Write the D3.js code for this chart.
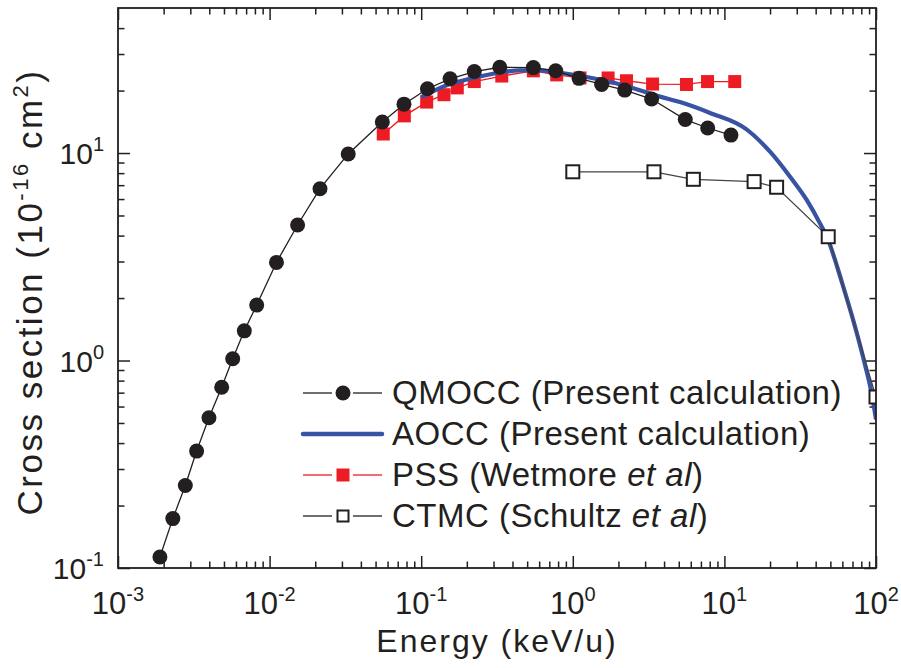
<!DOCTYPE html>
<html>
<head>
<meta charset="utf-8">
<script src="https://cdn.jsdelivr.net/npm/d3@7"></script>
<style>
  body { margin: 0; background: #fff; }
  text { font-family: "Liberation Sans", Arial, sans-serif; fill: #231f20; }
</style>
</head>
<body>
<div id="canvas"></div>
<script>
"use strict"

// values (energy in keV/u, cross section in 1e-16 cm^2)
const qmoccEnergy = [0.00189, 0.0023, 0.00278, 0.0033, 0.00398, 0.00483, 0.00571, 0.00681, 0.00822, 0.0111,
    0.0153, 0.0215, 0.033, 0.0554, 0.077, 0.110, 0.155, 0.224, 0.330, 0.549, 0.771, 1.10, 1.55, 2.20, 3.31, 5.52, 7.76, 11.05];
const qmoccSigma = [0.113, 0.173, 0.250, 0.366, 0.530, 0.743, 1.02, 1.39, 1.85, 2.97,
    4.50, 6.73, 9.9, 14.1, 17.2, 20.4, 22.8, 24.7, 25.9, 25.8, 24.9, 22.9, 21.4, 20.1, 18.2, 14.5, 13.2, 12.2];

const aoccEnergy = [0.1, 0.155, 0.21, 0.315, 0.45, 0.6, 0.85, 1.5, 2.27, 3.76, 5.09, 8.04, 14.0, 20.0, 27.1,
    34.9, 42.7, 48.4, 55.1, 60.8, 70.8, 82.4, 93.7, 100];
const aoccSigma = [18.6, 21.5, 22.8, 24.3, 25.0, 25.0, 24.3, 22.6, 21.0, 18.7, 17.6, 15.6, 13.0, 10.15, 7.69,
    5.94, 4.58, 3.81, 2.87, 2.27, 1.56, 1.03, 0.69, 0.52];

const pssEnergy = [0.0562, 0.0774, 0.1087, 0.1413, 0.173, 0.224, 0.340, 0.549, 0.783, 1.116, 1.71, 2.26, 3.36, 5.62, 7.74, 11.7];
const pssSigma = [12.35, 15.1, 17.6, 19.1, 20.6, 22.1, 23.5, 24.9, 23.8, 23.0, 23.0, 22.3, 21.5, 21.4, 22.1, 22.1];

const ctmcEnergy = [1.0, 3.43, 6.24, 15.7, 22.1, 48.4, 100];
const ctmcSigma = [8.12, 8.12, 7.47, 7.28, 6.84, 3.95, 0.667];

const xTickValues = [1e-3, 1e-2, 1e-1, 1e0, 1e1, 1e2];
const xTickExponents = ["-3", "-2", "-1", "0", "1", "2"];
const yTickValues = [1e-1, 1e0, 1e1];
const yTickExponents = ["-1", "0", "1"];

const legendNames = ["QMOCC (Present calculation)", "AOCC (Present calculation)", "PSS (Wetmore ", "CTMC (Schultz "];
const legendItalic = ["", "", "et al", "et al"];

const black = "#231f20";
const blue = "#3953a4";
const red = "#ed1c24";

const margin = { left: 118, top: 8 };
const W = 758, H = 560;

let svg = d3.select("#canvas")
    .append("svg")
    .attr("width", 901)
    .attr("height", 668);

let plot = svg.append("g")
    .attr("transform", `translate(${margin.left},${margin.top})`);

let x = d3.scaleLog().domain([1e-3, 1e2]).range([0, W]);
let y = d3.scaleLog().domain([0.1, 50]).range([H, 0]);

// minor tick positions 2..9 in each decade
function minorTicks(lo, hi) {
    let out = [];
    for (let e = lo; e < hi; e++) {
        for (let m = 2; m <= 9; m++) out.push(m * Math.pow(10, e));
    }
    return out;
}
const xMinor = minorTicks(-3, 2);
const yMinor = minorTicks(-1, 2).filter(v => v < 50);

function drawAxis(axis, transform) {
    let g = plot.append("g").attr("transform", transform).call(axis);
    g.select(".domain").remove();
    g.selectAll("line").attr("stroke", black).attr("stroke-width", 1.5);
    g.selectAll("text").remove();
}

drawAxis(d3.axisBottom(x).tickValues(xTickValues).tickSize(-12), `translate(0,${H})`);
drawAxis(d3.axisBottom(x).tickValues(xMinor).tickSize(-6.5), `translate(0,${H})`);
drawAxis(d3.axisTop(x).tickValues(xTickValues).tickSize(-12), "translate(0,0)");
drawAxis(d3.axisTop(x).tickValues(xMinor).tickSize(-6.5), "translate(0,0)");
drawAxis(d3.axisLeft(y).tickValues(yTickValues).tickSize(-12), "translate(0,0)");
drawAxis(d3.axisLeft(y).tickValues(yMinor).tickSize(-6.5), "translate(0,0)");
drawAxis(d3.axisRight(y).tickValues(yTickValues).tickSize(-12), `translate(${W},0)`);
drawAxis(d3.axisRight(y).tickValues(yMinor).tickSize(-6.5), `translate(${W},0)`);

// tick labels as 10^n
function powerLabel(sel, exp) {
    sel.append("tspan").text("10");
    sel.append("tspan").attr("dy", -13).attr("font-size", 20).text(exp);
}

xTickValues.forEach((v, i) => {
    let t = plot.append("text")
        .attr("x", x(v))
        .attr("y", H + 46)
        .attr("text-anchor", "middle")
        .attr("font-size", 31);
    powerLabel(t, xTickExponents[i]);
});

yTickValues.forEach((v, i) => {
    let t = plot.append("text")
        .attr("x", -14)
        .attr("y", y(v) + 11)
        .attr("text-anchor", "end")
        .attr("font-size", 30);
    powerLabel(t, yTickExponents[i]);
});

// axis titles
svg.append("text")
    .attr("x", margin.left + W / 2)
    .attr("y", 652)
    .attr("text-anchor", "middle")
    .attr("font-size", 32)
    .attr("letter-spacing", 2)
    .text("Energy (keV/u)");

let yTitle = svg.append("text")
    .attr("transform", "translate(42,292) rotate(-90)")
    .attr("text-anchor", "middle")
    .attr("font-size", 35)
    .attr("letter-spacing", 2.5);
yTitle.append("tspan").text("Cross section (10");
yTitle.append("tspan").attr("dy", -14).attr("font-size", 22).text("-16");
yTitle.append("tspan").attr("dy", 14).text(" cm");
yTitle.append("tspan").attr("dy", -14).attr("font-size", 22).text("2");
yTitle.append("tspan").attr("dy", 14).text(")");

// data
svg.append("clipPath").attr("id", "clip")
    .append("rect").attr("width", W).attr("height", H);

let data = plot.append("g").attr("clip-path", "url(#clip)");

let line = d3.line()
    .x(d => x(d[0]))
    .y(d => y(d[1]));

let smoothLine = d3.line()
    .x(d => x(d[0]))
    .y(d => y(d[1]))
    .curve(d3.curveMonotoneX);

let qmocc = d3.zip(qmoccEnergy, qmoccSigma);
let aocc = d3.zip(aoccEnergy, aoccSigma);
let pss = d3.zip(pssEnergy, pssSigma);
let ctmc = d3.zip(ctmcEnergy, ctmcSigma);

// PSS (bottom)
data.append("path")
    .datum(pss)
    .attr("d", line)
    .attr("fill", "none")
    .attr("stroke", red)
    .attr("stroke-width", 1.3);

data.selectAll(".pss")
    .data(pss)
    .join("rect")
    .attr("x", d => x(d[0]) - 6.5)
    .attr("y", d => y(d[1]) - 6.5)
    .attr("width", 13)
    .attr("height", 13)
    .attr("fill", red);

// AOCC
data.append("path")
    .datum(aocc)
    .attr("d", smoothLine)
    .attr("fill", "none")
    .attr("stroke", blue)
    .attr("stroke-width", 4.2);

// QMOCC
data.append("path")
    .datum(qmocc)
    .attr("d", line)
    .attr("fill", "none")
    .attr("stroke", black)
    .attr("stroke-width", 1.3);

data.selectAll(".qmocc")
    .data(qmocc)
    .join("circle")
    .attr("cx", d => x(d[0]))
    .attr("cy", d => y(d[1]))
    .attr("r", 7.5)
    .attr("fill", black);

// CTMC (top)
data.append("path")
    .datum(ctmc)
    .attr("d", line)
    .attr("fill", "none")
    .attr("stroke", "#444")
    .attr("stroke-width", 1.3);

data.selectAll(".ctmc")
    .data(ctmc)
    .join("rect")
    .attr("x", d => x(d[0]) - 6.5)
    .attr("y", d => y(d[1]) - 6.5)
    .attr("width", 13)
    .attr("height", 13)
    .attr("fill", "white")
    .attr("stroke", black)
    .attr("stroke-width", 2);

// frame
plot.append("rect")
    .attr("width", W)
    .attr("height", H)
    .attr("fill", "none")
    .attr("stroke", black)
    .attr("stroke-width", 1.8);

// legend
let legend = svg.append("g").attr("transform", "translate(303,393)");
const rowGap = 41;

legendNames.forEach((name, i) => {
    let row = legend.append("g").attr("transform", `translate(0,${i * rowGap})`);
    if (i === 1) {
        row.append("line")
            .attr("x1", 0).attr("x2", 79)
            .attr("stroke", blue)
            .attr("stroke-width", 4.5)
            .attr("stroke-linecap", "round");
    } else {
        let c = i === 2 ? red : black;
        row.append("line").attr("x1", 0).attr("x2", 29).attr("stroke", c).attr("stroke-width", 1.3);
        row.append("line").attr("x1", 50).attr("x2", 79).attr("stroke", c).attr("stroke-width", 1.3);
        if (i === 0) {
            row.append("circle").attr("cx", 40).attr("r", 7.5).attr("fill", black);
        } else if (i === 2) {
            row.append("rect").attr("x", 33.5).attr("y", -6.5).attr("width", 13).attr("height", 13).attr("fill", red);
        } else {
            row.append("rect").attr("x", 34.5).attr("y", -5.5).attr("width", 11).attr("height", 11)
                .attr("fill", "white").attr("stroke", black).attr("stroke-width", 2);
        }
    }
    let t = row.append("text")
        .attr("x", 89)
        .attr("y", 11)
        .attr("font-size", 33)
        .attr("letter-spacing", 0.5);
    t.append("tspan").text(name);
    if (legendItalic[i]) {
        t.append("tspan").attr("font-style", "italic").text(legendItalic[i]);
        t.append("tspan").text(")");
    }
});
</script>
</body>
</html>
